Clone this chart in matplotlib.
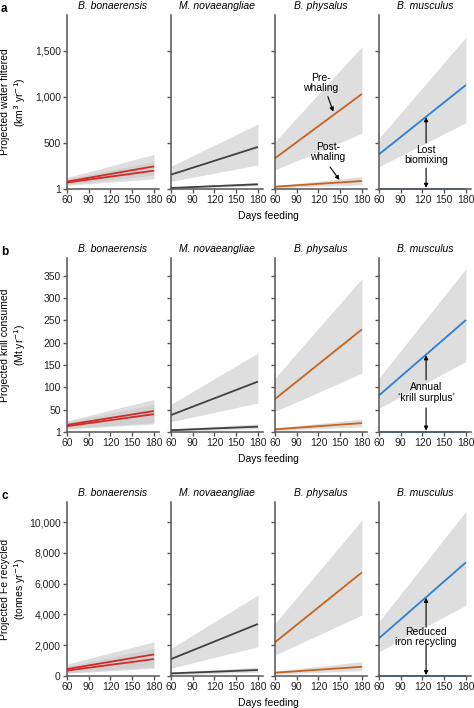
import numpy as np
import matplotlib.pyplot as plt

plt.rcParams['font.family'] = ['Liberation Sans', 'DejaVu Sans']
plt.rcParams['font.size'] = 7.5

# ---- data ----
species = ['B. bonaerensis', 'M. novaeangliae', 'B. physalus', 'B. musculus']
colors = ['#d42a26', '#404040', '#c8621f', '#2a80d6']
days = [60, 180]

# water filtered (km3 / yr): pre-whaling line, band low/high; post-whaling line, band low/high
water_pre = [[80, 246], [156, 457], [334, 1033], [377, 1130]]
water_pre_lo = [[50, 150], [83, 261], [207, 605], [242, 721]]
water_pre_hi = [[125, 375], [246, 707], [514, 1547], [551, 1649]]
water_post = [[70, 199], [11, 51], [25, 87], [1, 1]]
water_post_lo = [[40, 110], [5, 35], [15, 45], [0, 0]]
water_post_hi = [[110, 300], [20, 70], [35, 134], [0, 0]]

# krill consumed (Mt / yr)
krill_pre = [[16, 47], [38, 113], [74, 230], [82, 251]]
krill_pre_lo = [[8, 21], [23, 65], [46, 132], [53, 158]]
krill_pre_hi = [[25, 73], [62, 177], [121, 344], [121, 366]]
krill_post = [[13, 40], [4, 12], [6, 20], [1, 1]]
krill_post_lo = [[7, 18], [2, 7], [3, 12], [0, 0]]
krill_post_hi = [[22, 62], [7, 18], [9, 29], [0, 0]]

# Fe recycled (tonnes / yr)
fe_pre = [[450, 1400], [1100, 3380], [2190, 6730], [2450, 7380]]
fe_pre_lo = [[220, 600], [500, 1900], [1360, 3960], [1580, 4600]]
fe_pre_hi = [[780, 2220], [1790, 5260], [3420, 10130], [3530, 10700]]
fe_post = [[350, 1100], [170, 390], [215, 600], [0, 0]]
fe_post_lo = [[180, 500], [80, 250], [120, 350], [0, 0]]
fe_post_hi = [[620, 1800], [260, 560], [320, 930], [0, 0]]

rows = [
    dict(letter='a', ylabel='Projected water filtered\n(km$^3$ yr$^{-1}$)',
         ylim=(0, 1890), yticks=[1, 500, 1000, 1500],
         yticklabels=['1', '500', '1,000', '1,500'],
         pre=water_pre, pre_lo=water_pre_lo, pre_hi=water_pre_hi,
         post=water_post, post_lo=water_post_lo, post_hi=water_post_hi),
    dict(letter='b', ylabel='Projected krill consumed\n(Mt yr$^{-1}$)',
         ylim=(0, 390), yticks=[1, 50, 100, 150, 200, 250, 300, 350],
         yticklabels=['1', '50', '100', '150', '200', '250', '300', '350'],
         pre=krill_pre, pre_lo=krill_pre_lo, pre_hi=krill_pre_hi,
         post=krill_post, post_lo=krill_post_lo, post_hi=krill_post_hi),
    dict(letter='c', ylabel='Projected Fe recycled\n(tonnes yr$^{-1}$)',
         ylim=(0, 11300), yticks=[0, 2000, 4000, 6000, 8000, 10000],
         yticklabels=['0', '2,000', '4,000', '6,000', '8,000', '10,000'],
         pre=fe_pre, pre_lo=fe_pre_lo, pre_hi=fe_pre_hi,
         post=fe_post, post_lo=fe_post_lo, post_hi=fe_post_hi),
]

W, H = 474, 708
fig = plt.figure(figsize=(W / 100, H / 100), dpi=100)

lefts = [67, 171, 275, 379]
pw = 92
bottoms = [189, 432, 676]
ph = 174
spine_col = '#555555'

axes = []
for r, row in enumerate(rows):
    row_axes = []
    for c in range(4):
        ax = fig.add_axes([lefts[c] / W, 1 - bottoms[r] / H, pw / W, ph / H])
        for s in ['top', 'right']:
            ax.spines[s].set_visible(False)
        for s in ['left', 'bottom']:
            ax.spines[s].set_color(spine_col)
            ax.spines[s].set_linewidth(1.1)
        ax.tick_params(colors=spine_col, labelcolor='#222222', length=3,
                       width=1.0, labelsize=7.5, pad=1.5)
        ax.set_xlim(60, 187)
        ax.set_ylim(*row['ylim'])
        ax.set_xticks([60, 90, 120, 150, 180])
        ax.set_yticks(row['yticks'])
        if c == 0:
            ax.set_yticklabels(row['yticklabels'])
            ax.set_ylabel(row['ylabel'], fontsize=7.5, linespacing=1.2)
            ax.yaxis.set_label_coords(-0.42, 0.5)
        else:
            ax.set_yticklabels([])

        col = colors[c]
        # uncertainty bands
        ax.fill_between(days, row['pre_lo'][c], row['pre_hi'][c],
                        color='#c8c8c8', alpha=0.6, lw=0)
        if c < 3:
            ax.fill_between(days, row['post_lo'][c], row['post_hi'][c],
                            color='#c8c8c8', alpha=0.6, lw=0)
        ax.plot(days, row['pre'][c], color=col, lw=1.3, solid_capstyle='butt')
        ax.plot(days, row['post'][c], color=col, lw=1.3, solid_capstyle='butt',
                clip_on=False)

        ax.set_title(species[c], fontsize=7.5, style='italic', pad=4)
        row_axes.append(ax)
    axes.append(row_axes)

    fig.text(1 / W, 1 - (bottoms[r] - ph - 12) / H, row['letter'],
             fontsize=8.5, fontweight='bold', va='top', ha='left')
    fig.text(268 / W, 1 - (bottoms[r] + 27) / H, 'Days feeding',
             fontsize=7.5, ha='center', va='center')

arrow = dict(arrowstyle='-|>', color='black', lw=0.8, mutation_scale=6,
             shrinkA=0, shrinkB=0)

# panel a annotations
ax = axes[0][2]
ax.text(123, 1152, 'Pre-\nwhaling', ha='center', va='center', fontsize=7.5,
        linespacing=1.1)
ax.annotate('', xy=(140.5, 840), xytext=(133, 1003), arrowprops=arrow)
ax.text(133, 402, 'Post-\nwhaling', ha='center', va='center', fontsize=7.5,
        linespacing=1.1)
ax.annotate('', xy=(149, 98), xytext=(136, 239), arrowprops=arrow)

ax = axes[0][3]
ax.text(125, 370, 'Lost\nbiomixing', ha='center', va='center', fontsize=7.5,
        linespacing=1.1)
ax.annotate('', xy=(125, 780), xytext=(125, 500), arrowprops=arrow)
ax.annotate('', xy=(125, 12), xytext=(125, 228), arrowprops=arrow)

# panel b annotations
ax = axes[1][3]
ax.text(125, 88, "Annual\n\u2018krill surplus\u2019", ha='center', va='center',
        fontsize=7.5, linespacing=1.1)
ax.annotate('', xy=(125, 172), xytext=(125, 117), arrowprops=arrow)
ax.annotate('', xy=(125, 3), xytext=(125, 54), arrowprops=arrow)

# panel c annotations
ax = axes[2][3]
ax.text(125, 2530, 'Reduced\niron recycling', ha='center', va='center',
        fontsize=7.5, linespacing=1.1)
ax.annotate('', xy=(125, 5080), xytext=(125, 3180), arrowprops=arrow)
ax.annotate('', xy=(125, 60), xytext=(125, 2010), arrowprops=arrow)

fig.savefig('out.png', dpi=100)
